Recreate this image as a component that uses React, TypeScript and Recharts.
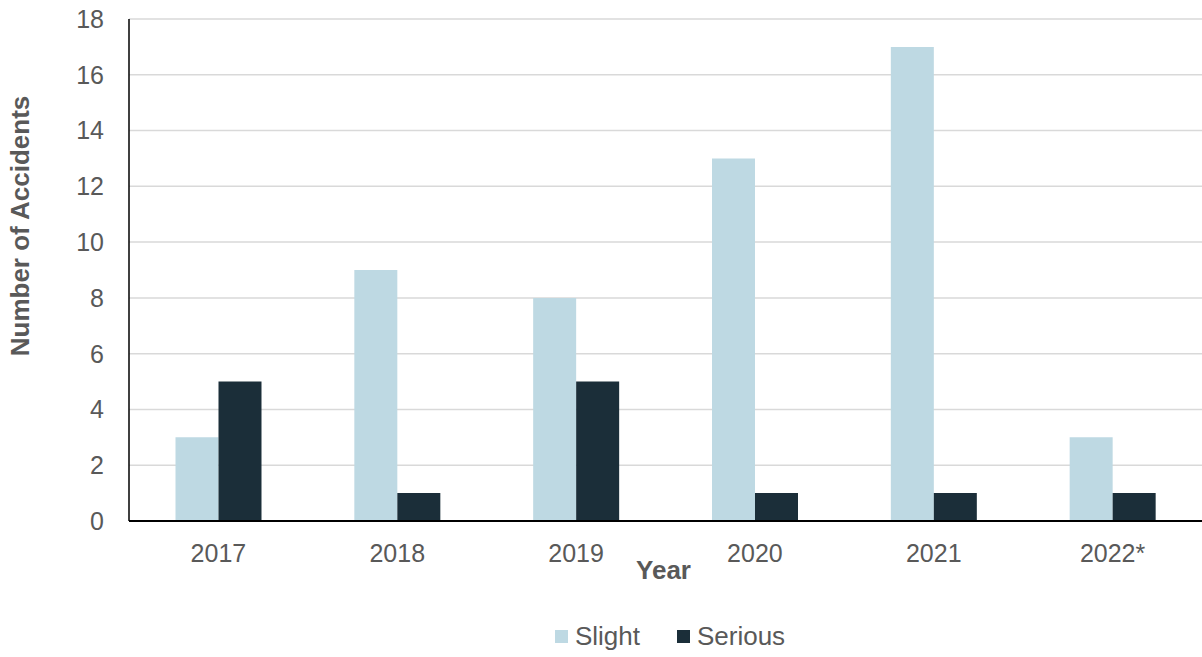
import { BarChart, Bar, XAxis, YAxis, CartesianGrid, Legend } from "recharts";

const years = ["2017", "2018", "2019", "2020", "2021", "2022*"];
const slight = [3, 9, 8, 13, 17, 3];
const serious = [5, 1, 5, 1, 1, 1];
const yTicks = [0, 2, 4, 6, 8, 10, 12, 14, 16, 18];

const data = years.map((year, i) => ({ year, Slight: slight[i], Serious: serious[i] }));

const FONT = "'Liberation Sans', Arial, sans-serif";
const GREY = "#595959";
const SERIES = [
  { key: "Slight", color: "#bed9e3" },
  { key: "Serious", color: "#1b2e39" },
];

function YearLabel(props: any) {
  const { viewBox } = props;
  return (
    <text
      x={viewBox.x + viewBox.width / 2 - 2}
      y={viewBox.y + 51}
      textAnchor="middle"
      dominantBaseline="middle"
      fontSize={26}
      fontWeight="bold"
      fill={GREY}
      fontFamily={FONT}
    >
      Year
    </text>
  );
}

function AccidentsLabel() {
  return (
    <text
      x={22}
      y={226}
      transform="rotate(-90, 22, 226)"
      textAnchor="middle"
      dominantBaseline="middle"
      fontSize={26}
      fontWeight="bold"
      fill={GREY}
      fontFamily={FONT}
    >
      Number of Accidents
    </text>
  );
}

function LegendContent() {
  return (
    <div style={{ display: "flex", justifyContent: "center", alignItems: "center", paddingLeft: 138, fontFamily: FONT }}>
      {SERIES.map((s, i) => (
        <div key={s.key} style={{ display: "flex", alignItems: "center", marginRight: i === 0 ? 37 : 0 }}>
          <span style={{ width: 13, height: 13, background: s.color, display: "inline-block", marginRight: 7 }} />
          <span style={{ color: GREY, fontSize: 26, lineHeight: "30px" }}>{s.key}</span>
        </div>
      ))}
    </div>
  );
}

export default function App() {
  return (
    <div style={{ width: 1202, height: 657, fontFamily: FONT }}>
      <style>{`body { margin: 0; }`}</style>
      <BarChart
        width={1202}
        height={657}
        data={data}
        margin={{ top: 19, right: 0, bottom: 0, left: 0 }}
        barCategoryGap="26%"
        barGap={0}
      >
        <CartesianGrid vertical={false} stroke="#d9d9d9" strokeWidth={1.5} />
        <XAxis
          dataKey="year"
          height={100}
          tickLine={false}
          axisLine={{ stroke: "#000", strokeWidth: 2 }}
          tickMargin={17}
          tick={{ fill: GREY, fontSize: 25, fontFamily: FONT }}
          label={<YearLabel />}
        />
        <YAxis
          width={129}
          domain={[0, 18]}
          ticks={yTicks}
          interval={0}
          tickLine={false}
          axisLine={{ stroke: "#000", strokeWidth: 1.5 }}
          tickMargin={19}
          tick={{ fill: GREY, fontSize: 25, fontFamily: FONT }}
          label={<AccidentsLabel />}
        />
        <Legend verticalAlign="bottom" height={36} content={<LegendContent />} />
        {SERIES.map((s) => (
          <Bar key={s.key} dataKey={s.key} fill={s.color} isAnimationActive={false} />
        ))}
      </BarChart>
    </div>
  );
}
